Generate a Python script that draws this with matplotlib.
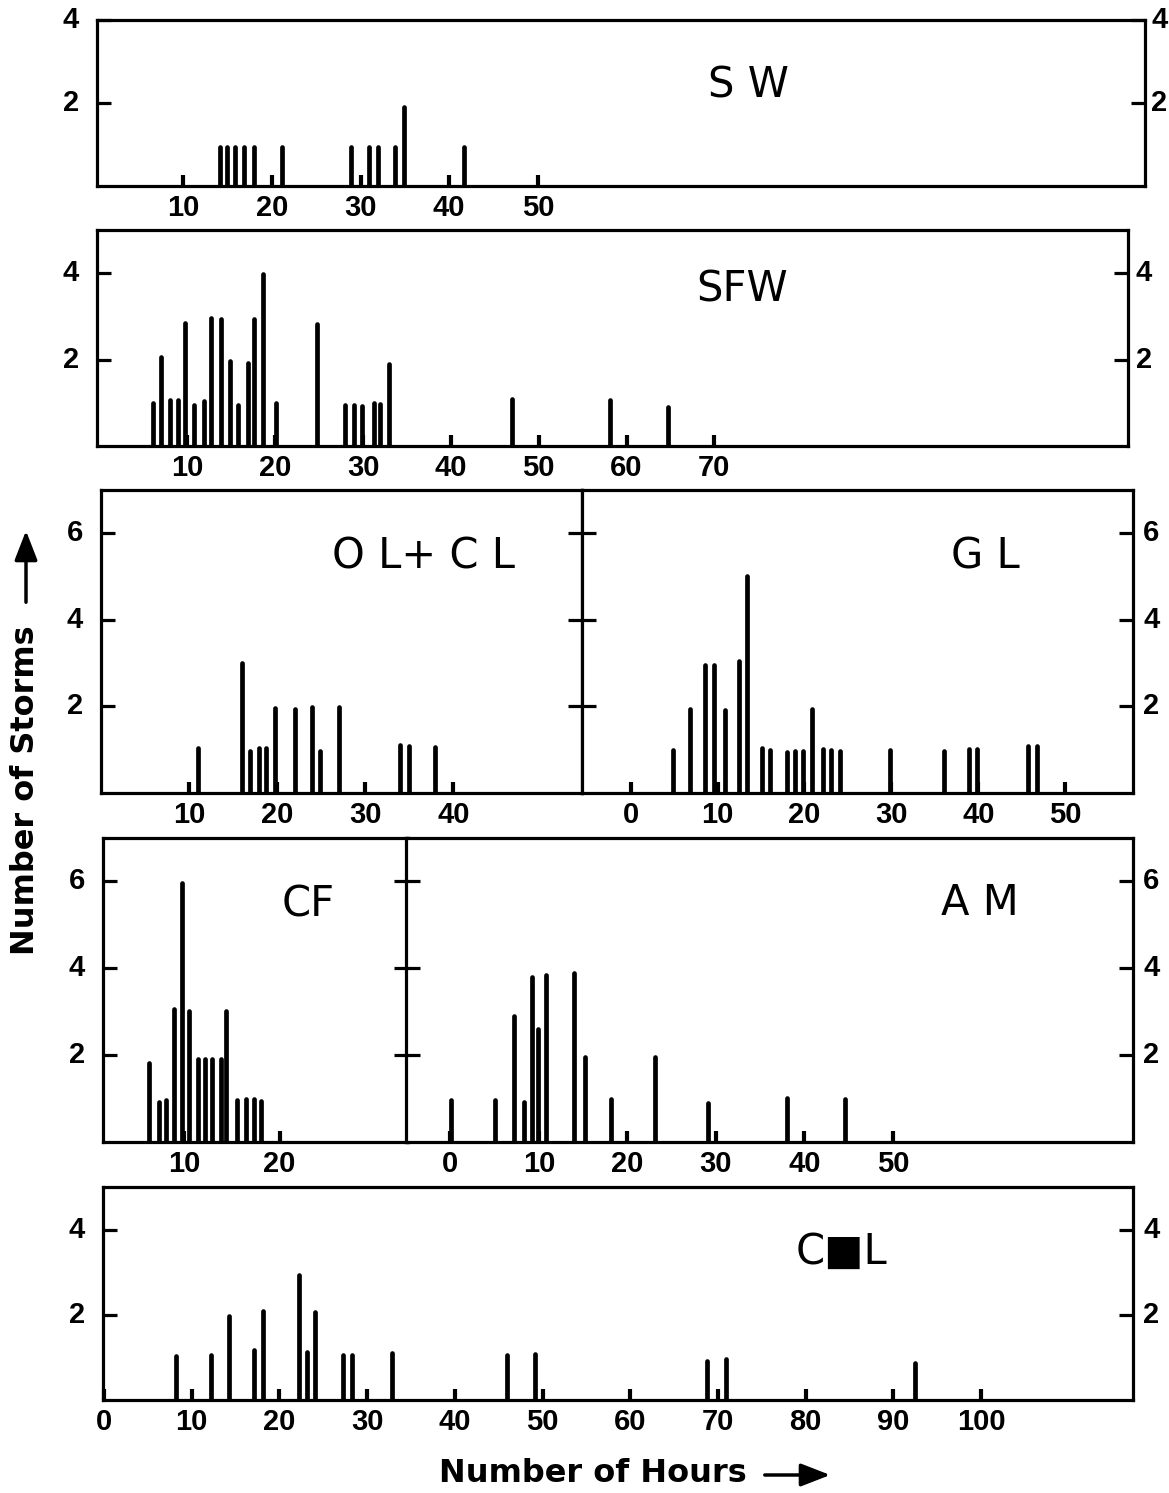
import matplotlib
matplotlib.use('Agg')
import matplotlib.pyplot as plt
from matplotlib import transforms

# ---------------- data (hours, number of storms) ----------------
SW_x = [14.1, 14.9, 15.8, 16.8, 18.0, 21.1, 28.9, 31.0, 32.0, 33.9, 34.9, 41.7]
SW_h = [0.95, 0.95, 0.95, 0.95, 0.95, 0.95, 0.95, 0.95, 0.95, 0.95, 1.9, 0.95]
SW_ticks = [10, 20, 30, 40, 50]

SFW_x = [6.1, 7.0, 8.0, 8.9, 9.7, 10.8, 11.9, 12.7, 13.8, 14.8, 15.8, 16.9, 17.6,
         18.6, 20.1, 24.7, 27.9, 29.0, 29.9, 31.2, 31.9, 33.0, 46.9, 58.1, 64.7]
SFW_h = [0.99, 2.07, 1.06, 1.06, 2.85, 0.95, 1.05, 2.97, 2.95, 1.96, 0.95, 1.92, 2.94,
         3.99, 1.0, 2.83, 0.95, 0.95, 0.93, 0.99, 0.97, 1.9, 1.09, 1.06, 0.91]
SFW_ticks = [10, 20, 30, 40, 50, 60, 70]

OLCL_x = [11.0, 16.0, 16.9, 18.0, 18.7, 19.8, 22.0, 24.0, 24.9, 27.0, 33.9, 35.0, 37.9]
OLCL_h = [1.03, 3.0, 0.98, 1.03, 1.05, 1.96, 1.93, 1.99, 0.98, 1.99, 1.12, 1.09, 1.06]
OLCL_ticks = [10, 20, 30, 40]

GL_x = [4.9, 6.8, 8.5, 9.6, 10.9, 12.5, 13.4, 15.1, 16.0, 18.0, 18.9, 19.8, 20.9,
        22.1, 23.1, 24.1, 29.8, 36.0, 38.9, 39.8, 45.7, 46.7]
GL_h = [1.0, 1.95, 2.96, 2.96, 1.92, 3.05, 5.02, 1.03, 1.0, 0.94, 0.97, 0.98, 1.94,
        1.02, 1.0, 0.96, 1.0, 0.98, 1.02, 1.02, 1.08, 1.08]
GL_ticks = [0, 10, 20, 30, 40, 50]

CF_x = [6.3, 7.3, 8.1, 8.9, 9.7, 10.5, 11.4, 12.2, 12.9, 13.8, 14.4, 15.5, 16.5, 17.3, 18.1]
CF_h = [1.82, 0.92, 0.97, 3.07, 5.96, 3.02, 1.9, 1.9, 1.9, 1.9, 3.02, 0.97, 1.0, 1.0, 0.95]
CF_ticks = [10, 20]

AM_x = [0.1, 5.0, 7.2, 8.3, 9.2, 9.9, 10.8, 14.0, 15.2, 18.1, 23.1, 29.1, 38.0, 44.6]
AM_h = [0.97, 0.96, 2.89, 0.92, 3.81, 2.6, 3.84, 3.9, 1.95, 0.99, 1.95, 0.89, 1.01, 0.99]
AM_ticks = [0, 10, 20, 30, 40, 50]

CML_x = [8.2, 12.2, 14.3, 17.1, 18.1, 22.2, 23.2, 24.1, 27.2, 28.3, 32.8, 45.9, 49.1,
         68.8, 70.9, 92.5]
CML_h = [1.03, 1.06, 1.98, 1.17, 2.1, 2.93, 1.13, 2.06, 1.06, 1.06, 1.1, 1.06, 1.09,
         0.91, 0.97, 0.87]
CML_ticks = [0, 10, 20, 30, 40, 50, 60, 70, 80, 90, 100]

# ---------------- layout ----------------
W, H = 1169, 1493
fig = plt.figure(figsize=(W / 100, H / 100), dpi=100)
fig.patch.set_facecolor('white')

TICK_FONT = dict(family='Liberation Sans', weight='bold', size=21)
PANEL_FONT = dict(family='DejaVu Sans', size=30)


def add_ax(l, t, r, b):
    return fig.add_axes([l / W, 1 - b / H, (r - l) / W, (b - t) / H])


def panel(box, xs, hs, xlim, ylim, xticks, yticks, left_lab, right_lab, rpad=8):
    ax = add_ax(*box)
    ax.set_xlim(*xlim)
    ax.set_ylim(*ylim)
    for s in ax.spines.values():
        s.set_linewidth(2.3)
        s.set_color('black')
    lc = ax.vlines(xs, 0, hs, colors='black', linewidth=3.4)
    lc.set_capstyle('round')
    ax.set_xticks(xticks)
    ax.set_xticklabels([str(v) for v in xticks], fontdict=TICK_FONT)
    ax.tick_params(axis='x', direction='in', length=8, width=3.0, pad=6,
                   bottom=True, top=False)
    ax.set_yticks(yticks)
    ax.tick_params(axis='y', direction='in', length=10, width=2.3,
                   left=True, right=True, labelleft=False, labelright=False)
    trans = transforms.blended_transform_factory(ax.transAxes, ax.transData)
    for y in yticks:
        if left_lab:
            t = transforms.offset_copy(trans, fig=fig, x=-18, y=0, units='dots')
            ax.text(0, y, str(y), transform=t, ha='right', va='center', **TICK_FONT)
        if right_lab:
            t = transforms.offset_copy(trans, fig=fig, x=rpad, y=0, units='dots')
            ax.text(1, y, str(y), transform=t, ha='left', va='center', **TICK_FONT)
    return ax


panel((97, 20, 1145, 186), SW_x, SW_h, (0.26, 118.5), (0, 4), SW_ticks, [2, 4], True, True, rpad=6)
panel((97, 230, 1128, 446), SFW_x, SFW_h, (-0.3, 117.1), (0, 5), SFW_ticks, [2, 4], True, True, rpad=8)
panel((101, 490, 582, 793), OLCL_x, OLCL_h, (0.03, 54.6), (0, 7), OLCL_ticks, [2, 4, 6], True, False)
panel((582, 490, 1133, 793), GL_x, GL_h, (-5.6, 57.8), (0, 7), GL_ticks, [2, 4, 6], False, True, rpad=10)
panel((103, 838, 408, 1142), CF_x, CF_h, (1.44, 33.5), (0, 7), CF_ticks, [2, 4, 6], True, False)
panel((406, 838, 1133, 1142), AM_x, AM_h, (-5.0, 77.1), (0, 7), AM_ticks, [2, 4, 6], False, True, rpad=10)
panel((103, 1187, 1133, 1400), CML_x, CML_h, (-0.1, 117.3), (0, 5), CML_ticks, [2, 4], True, True, rpad=10)

# ---------------- panel labels ----------------
def ftext(x, y, s, **kw):
    fig.text(x / W, 1 - y / H, s, ha='center', va='center', **kw)


ftext(748, 85, 'S W', **PANEL_FONT)
ftext(742, 290, 'SFW', **PANEL_FONT)
ftext(424, 557, 'O L+ C L', **PANEL_FONT)
ftext(985, 557, 'G L', **PANEL_FONT)
ftext(308, 905, 'CF', **PANEL_FONT)
ftext(980, 903, 'A M', **PANEL_FONT)
ftext(841, 1252, 'C\u25A0L', **PANEL_FONT)

# ---------------- axis titles ----------------
LAB_FONT = dict(family='DejaVu Sans', weight='bold', size=23)
ftext(593, 1473, 'Number of Hours', **LAB_FONT)
ftext(26, 790, 'Number of Storms', rotation=90, **LAB_FONT)


def farrow(x0, y0, x1, y1):
    fig.add_artist(matplotlib.patches.FancyArrowPatch(
        (x0 / W, 1 - y0 / H), (x1 / W, 1 - y1 / H), transform=fig.transFigure,
        arrowstyle='-|>,head_length=0.9,head_width=0.35', mutation_scale=20,
        color='black', linewidth=2.5))


farrow(762, 1475, 833, 1475)
farrow(26, 605, 26, 528)

fig.savefig('out.png', dpi=100, facecolor='white')
